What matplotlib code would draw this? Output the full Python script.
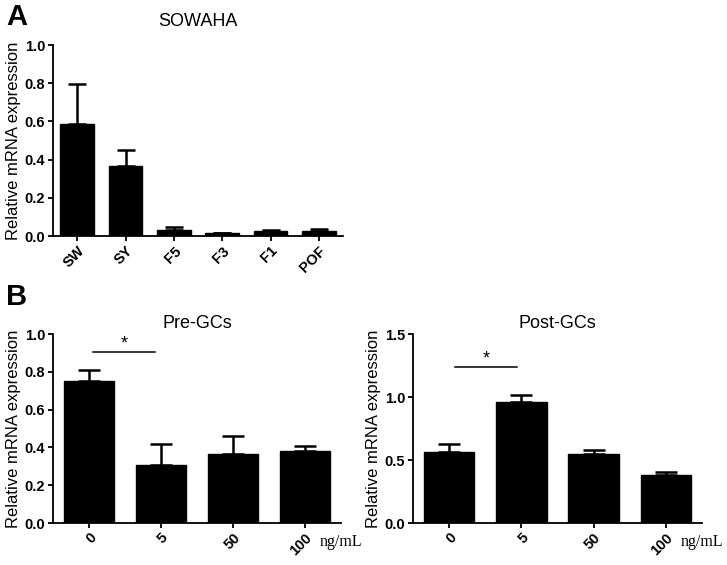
import numpy as np
import matplotlib.pyplot as plt

plt.rcParams['font.family'] = ['Liberation Sans', 'DejaVu Sans']

# panel A data
a_labels = ['SW', 'SY', 'F5', 'F3', 'F1', 'POF']
a_vals = [0.585, 0.368, 0.030, 0.015, 0.028, 0.027]
a_err = [0.21, 0.082, 0.015, 0.003, 0.005, 0.012]

# panel B data
b_labels = ['0', '5', '50', '100']
pre_vals = [0.754, 0.308, 0.364, 0.380]
pre_err = [0.056, 0.112, 0.094, 0.030]
post_vals = [0.566, 0.960, 0.547, 0.382]
post_err = [0.064, 0.056, 0.029, 0.026]


def bar_panel(ax, labels, vals, errs, ymax, ystep, title, capsize):
    x = np.arange(len(labels))
    ax.bar(x, vals, width=0.7, color='black', edgecolor='black')
    ax.errorbar(x, vals, yerr=[np.zeros(len(vals)), errs], fmt='none',
                ecolor='black', elinewidth=1.8, capsize=capsize, capthick=1.8)
    ax.set_xlim(-0.5, len(labels) - 0.5)
    ax.set_ylim(0, ymax)
    ax.set_yticks(np.arange(0, ymax + 1e-9, ystep))
    ax.yaxis.set_major_formatter(plt.FormatStrFormatter('%.1f'))
    ax.set_xticks(x)
    ax.set_xticklabels(labels, rotation=45, ha='right', rotation_mode='anchor',
                       fontweight='bold', fontsize=10.5)
    for t in ax.get_yticklabels():
        t.set_fontweight('bold')
        t.set_fontsize(10.5)
    ax.spines['top'].set_visible(False)
    ax.spines['right'].set_visible(False)
    ax.spines['left'].set_linewidth(1.3)
    ax.spines['bottom'].set_linewidth(1.3)
    ax.tick_params(length=3.5, width=1.3, pad=2)
    ax.set_ylabel('Relative mRNA expression', fontsize=12, labelpad=3)
    ax.set_title(title, fontsize=13, pad=4)


fig = plt.figure(figsize=(7.27, 5.65), dpi=100)
ax_a = fig.add_axes([0.0729, 0.5823, 0.399, 0.338])
ax_pre = fig.add_axes([0.0729, 0.0743, 0.396, 0.3345])
ax_post = fig.add_axes([0.568, 0.0743, 0.3975, 0.3345])

bar_panel(ax_a, a_labels, a_vals, a_err, 1.0, 0.2, 'SOWAHA', 6.5)
ax_a.set_title('SOWAHA', fontsize=13, pad=14)
bar_panel(ax_pre, b_labels, pre_vals, pre_err, 1.0, 0.2, 'Pre-GCs', 8)
bar_panel(ax_post, b_labels, post_vals, post_err, 1.5, 0.5, 'Post-GCs', 8)

# significance marks
ax_pre.plot([0.05, 0.92], [0.907, 0.907], color='black', lw=1.1)
ax_pre.text(0.486, 0.9, '*', ha='center', va='bottom', fontsize=13)
ax_post.plot([0.08, 0.94], [1.24, 1.24], color='black', lw=1.1)
ax_post.text(0.51, 1.235, '*', ha='center', va='bottom', fontsize=13)

for ax in (ax_pre, ax_post):
    ax.text(0.925, -0.1, 'ng/mL', transform=ax.transAxes, ha='left', va='center',
            fontsize=11.5, family=['Liberation Serif', 'DejaVu Serif'])

fig.text(0.008, 0.97, 'A', fontsize=21, fontweight='bold', va='center', ha='left')
fig.text(0.008, 0.474, 'B', fontsize=21, fontweight='bold', va='center', ha='left')

fig.savefig('out.png', dpi=100)
